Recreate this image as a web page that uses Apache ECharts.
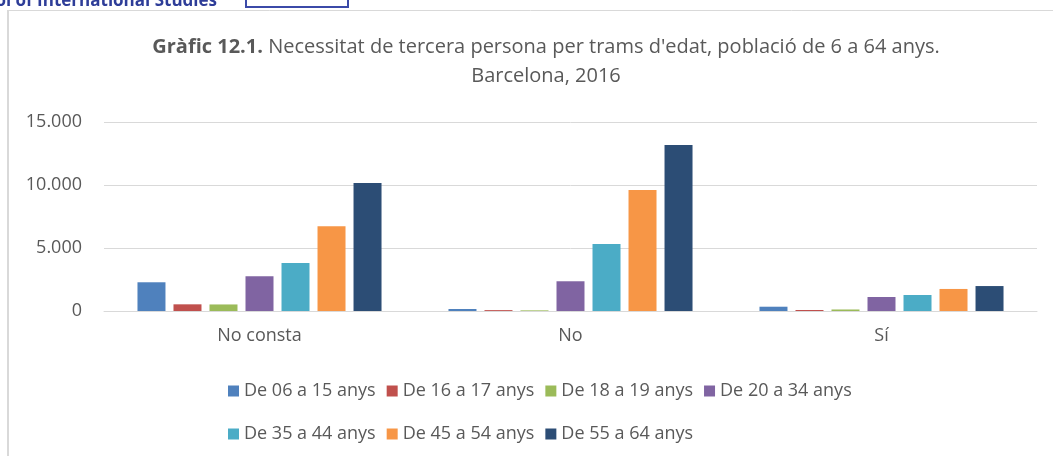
<!DOCTYPE html>
<html>
<head>
<meta charset="utf-8">
<script src="https://cdn.jsdelivr.net/npm/echarts@6/dist/echarts.min.js"></script>
<style>
	html, body { margin: 0; padding: 0; background: #fff; }
	#chart { width: 1053px; height: 456px; }
</style>
</head>
<body>
<div id="chart"></div>
<script>
	'use strict';
	var categories = ['No consta', 'No', 'Sí'];
	var seriesNames = ['De 06 a 15 anys', 'De 16 a 17 anys', 'De 18 a 19 anys', 'De 20 a 34 anys',
		'De 35 a 44 anys', 'De 45 a 54 anys', 'De 55 a 64 anys'];
	// valors per categoria (No consta, No, Sí)
	var edat06a15 = [2280, 160, 340];
	var edat16a17 = [530, 70, 80];
	var edat18a19 = [520, 50, 120];
	var edat20a34 = [2750, 2360, 1110];
	var edat35a44 = [3810, 5320, 1270];
	var edat45a54 = [6720, 9600, 1750];
	var edat55a64 = [10160, 13170, 1980];
	var seriesData = [edat06a15, edat16a17, edat18a19, edat20a34, edat35a44, edat45a54, edat55a64];
	var colors = ['#4f81bd', '#c0504d', '#9bbb59', '#8064a2', '#4bacc6', '#f79646', '#2c4d75'];

	var font = '"Open Sans", sans-serif';
	var txtColor = '#595959';

	var series = [];
	for (var i = 0; i < seriesNames.length; i++) {
		series.push({
			name: seriesNames[i],
			type: 'bar',
			barWidth: 28,
			barGap: '28.6%',
			itemStyle: { color: colors[i] },
			data: seriesData[i]
		});
	}

	var legendStyle = {
		orient: 'horizontal',
		left: 223,
		itemWidth: 11,
		itemHeight: 11,
		itemGap: 11,
		icon: 'rect',
		textStyle: { color: txtColor, fontFamily: font, fontSize: 18 }
	};

	var chart = echarts.init(document.getElementById('chart'));
	chart.setOption({
		animation: false,
		color: colors,
		title: {
			left: 541,
			top: 28,
			textAlign: 'center',
			text: '{b|Gràfic 12.1.} Necessitat de tercera persona per trams d\'edat, població de 6 a 64 anys.\nBarcelona, 2016',
			textStyle: {
				color: txtColor,
				fontFamily: font,
				fontSize: 20,
				fontWeight: 'normal',
				lineHeight: 29,
				rich: {
					b: { fontWeight: 'bold', fontFamily: font, fontSize: 20, color: txtColor, lineHeight: 29 }
				}
			}
		},
		legend: [
			echarts.util.extend({ top: 377, data: seriesNames.slice(0, 4) }, legendStyle),
			echarts.util.extend({ top: 420, data: seriesNames.slice(4) }, legendStyle)
		],
		grid: { left: 104, right: 16, top: 122, bottom: 145 },
		xAxis: {
			type: 'category',
			data: categories,
			axisLine: { lineStyle: { color: '#d9d9d9', width: 1 } },
			axisTick: { show: false },
			axisLabel: { color: txtColor, fontFamily: font, fontSize: 18, margin: 16 }
		},
		yAxis: {
			type: 'value',
			min: 0,
			max: 15000,
			interval: 5000,
			axisLine: { show: false },
			axisTick: { show: false },
			splitLine: { lineStyle: { color: '#d9d9d9', width: 1 } },
			axisLabel: {
				color: txtColor, fontFamily: font, fontSize: 18, margin: 22,
				formatter: function (v) {
					return String(v).replace(/\B(?=(\d{3})+(?!\d))/g, '.');
				}
			}
		},
		graphic: [
			// marc del gràfic
			{ type: 'line', shape: { x1: 8, y1: 10.5, x2: 1053, y2: 10.5 }, style: { stroke: '#d9d9d9', lineWidth: 1 } },
			{ type: 'line', shape: { x1: 8, y1: 10, x2: 8, y2: 456 }, style: { stroke: '#d9d9d9', lineWidth: 2 } },
			// capçalera retallada
			{ type: 'text', x: 217, y: -7, style: { text: 'School of International Studies', align: 'right', fill: '#2e3d98', font: 'bold 17px "Open Sans", sans-serif' } },
			{ type: 'rect', shape: { x: 246, y: -12, width: 102, height: 19 }, style: { fill: 'none', stroke: '#3b4aa8', lineWidth: 2 } }
		],
		series: series
	});
</script>
</body>
</html>
